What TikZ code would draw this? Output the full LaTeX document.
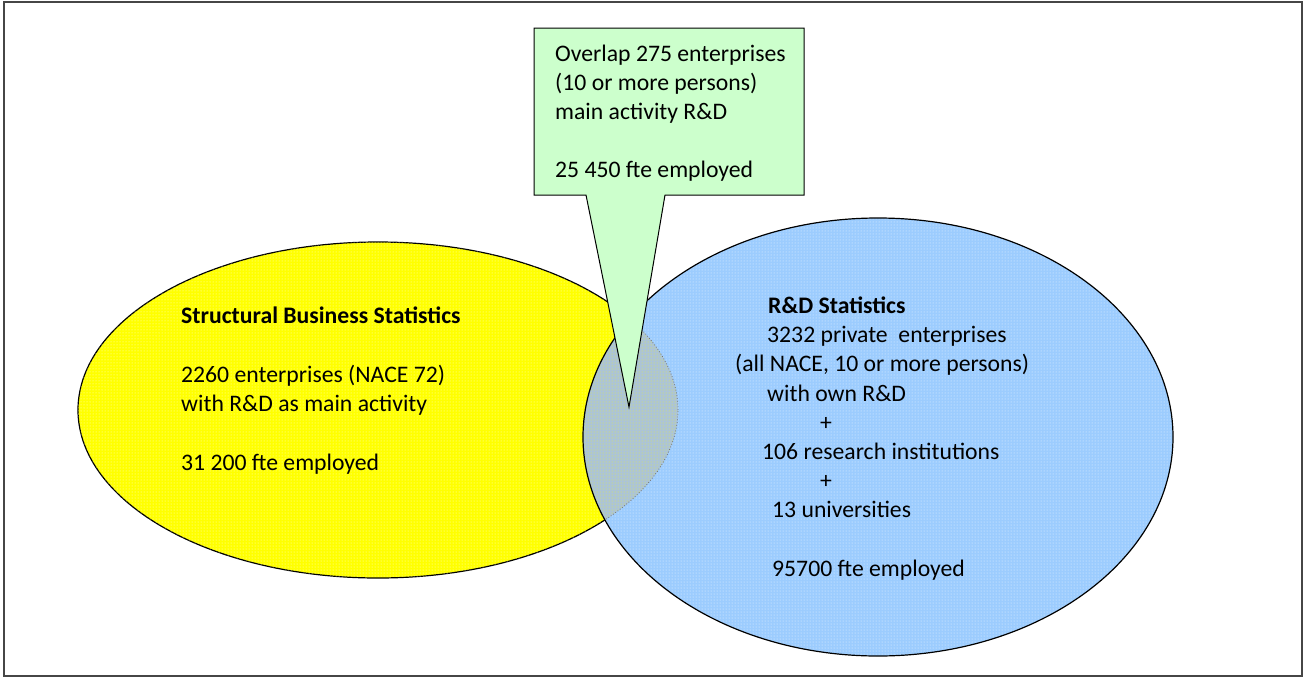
\documentclass[tikz,border=0pt]{standalone}
\usepackage{fontspec}
\setmainfont{Carlito}
\usetikzlibrary{patterns}

\definecolor{sbsyellow}{RGB}{255,255,0}
\definecolor{rdblue}{RGB}{156,204,254}
\definecolor{lensgrey}{RGB}{172,196,214}
\definecolor{calloutgreen}{RGB}{204,255,204}
\definecolor{framegrey}{RGB}{70,70,70}

\tikzset{
  setline/.style={draw=black, line width=1.2pt},
  grain/.style={postaction={pattern=dots, pattern color=#1}},
  txt/.style={anchor=base west, inner sep=0pt, font=\fontsize{23.7}{29}\selectfont},
}

\begin{document}
\begin{tikzpicture}[x=1pt,y=-1pt]
                \useasboundingbox (0,0) rectangle (1304,678);
                \draw[framegrey, line width=1.5pt] (4,2) rectangle (1302,676);

                \coordinate (S) at (378,410);
                \coordinate (R) at (878,437);

                % the two sets
                \fill[sbsyellow, setline, grain=white!80!yellow] (S) ellipse [x radius=300pt, y radius=168pt];
                \fill[rdblue, grain=white!80!rdblue] (R) ellipse [x radius=295pt, y radius=219pt];
                \begin{scope}
                  \clip (R) ellipse [x radius=295pt, y radius=219pt];
                  \fill[lensgrey, grain=yellow!70!lensgrey] (S) ellipse [x radius=300pt, y radius=168pt];
                  \draw[black!55, dotted, line width=0.8pt] (S) ellipse [x radius=300pt, y radius=168pt];
                \end{scope}
                \draw[setline] (R) ellipse [x radius=295pt, y radius=219pt];

                % callout with its pointer into the overlap
                \coordinate (T) at (629,407);
                \draw[fill=calloutgreen, line width=1pt] (534,28) -- (804,28) -- (804,195) -- (665,195)
                  -- (T) -- (586,195) -- (534,195) -- cycle;

                \foreach \y/\txt [count=\i] in {61/Overlap 275 enterprises, 90/(10 or more persons),
                  119/main activity R\&D, 177/25 450 fte employed}
                \node[txt] (ov\i) at (555,\y) {\txt};

                \foreach \y/\txt [count=\i] in {323/\bfseries Structural Business Statistics,
                  382/2260 enterprises (NACE 72), 411.5/with R\&D as main activity, 470.5/31 200 fte employed}
                \node[txt] (sbs\i) at (181,\y) {\txt};

                \foreach \x/\y/\txt [count=\i] in {768/313/\bfseries R\&D Statistics,
                  767/342/3232 private\ \ enterprises, 735/371/{(all NACE, 10 or more persons)},
                  767/401/with own R\&D, 820/430/+, 762/459/106 research institutions,
                  820/488/+, 772/517/13 universities, 772/576/95700 fte employed}
                \node[txt] (rd\i) at (\x,\y) {\txt};
            \end{tikzpicture}
\end{document}
